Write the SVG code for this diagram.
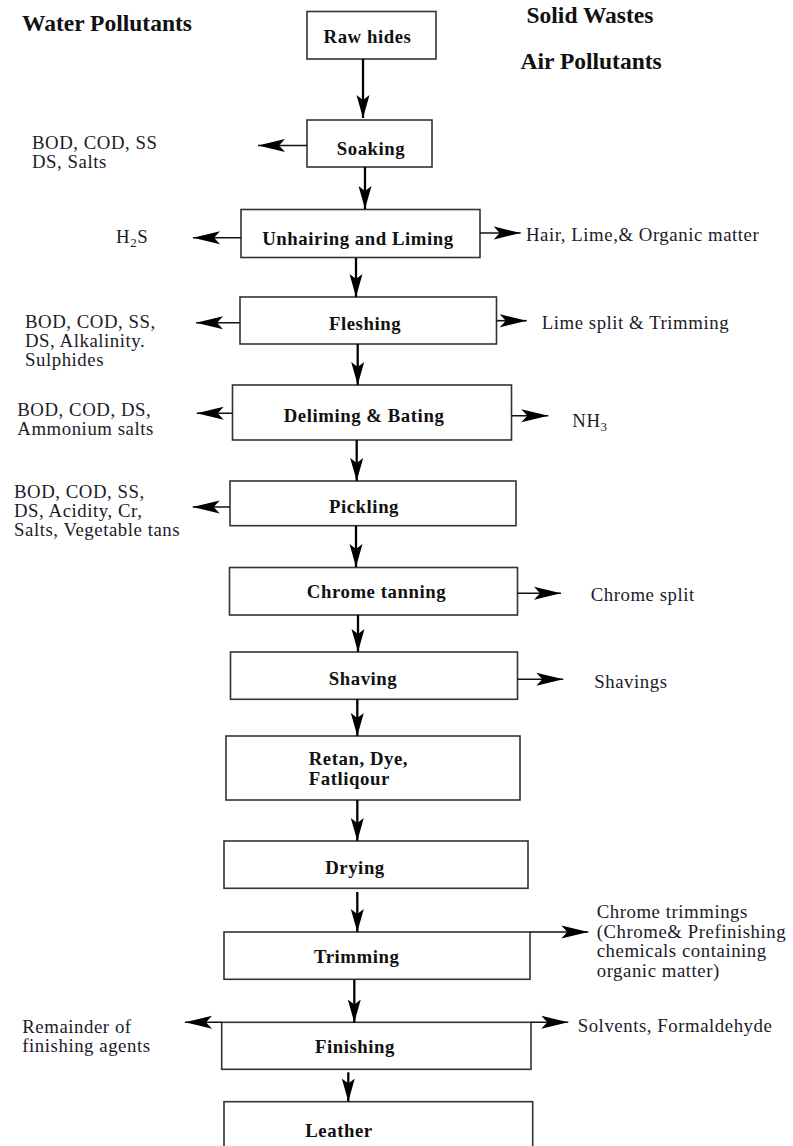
<svg xmlns="http://www.w3.org/2000/svg" width="793" height="1146" viewBox="0 0 793 1146">
<style>
.box{fill:#fff;stroke:#333;stroke-width:1.6}
.nt{font-family:"Liberation Serif",serif;font-weight:bold;font-size:18.8px;letter-spacing:0.55px;fill:#111;text-anchor:middle}
.lb{font-family:"Liberation Serif",serif;font-size:18.8px;letter-spacing:0.55px;fill:#1a1a2a}
.hd{font-family:"Liberation Serif",serif;font-weight:bold;font-size:23.5px;fill:#111}
.cv{fill:none;stroke:#000;stroke-width:2.3;marker-end:url(#av)}
.ch{fill:none;stroke:#111;stroke-width:1.6;marker-end:url(#ah)}
</style>
<defs>
<marker id="ah" markerUnits="userSpaceOnUse" markerWidth="28" markerHeight="14" viewBox="0 0 28 14" refX="27" refY="7" orient="auto"><path d="M27,7 L0,0.5 L6,7 L0,13.5 Z" fill="#000"/></marker>
<marker id="av" markerUnits="userSpaceOnUse" markerWidth="24" markerHeight="14" viewBox="0 0 24 14" refX="23" refY="7" orient="auto"><path d="M23,7 L0,0.5 L5,7 L0,13.5 Z" fill="#000"/></marker>
</defs>

<g id="headings">
<text class="hd" x="22" y="30.5">Water Pollutants</text>
<text class="hd" x="526.5" y="22.5">Solid Wastes</text>
<text class="hd" x="520.5" y="69">Air Pollutants</text>
</g>

<g id="n-raw"><rect class="box" x="307" y="11.5" width="129" height="47.5"/><text class="nt" x="367.5" y="43.3">Raw hides</text></g>
<g id="n-soaking"><rect class="box" x="307" y="120" width="125" height="47"/><text class="nt" x="371" y="155">Soaking</text></g>
<g id="n-unhairing"><rect class="box" x="241" y="209.5" width="239" height="48"/><text class="nt" x="358" y="245">Unhairing and Liming</text></g>
<g id="n-fleshing"><rect class="box" x="240" y="297" width="256.5" height="47"/><text class="nt" x="365" y="330">Fleshing</text></g>
<g id="n-deliming"><rect class="box" x="232.5" y="385" width="279" height="55"/><text class="nt" x="364" y="421.7">Deliming &amp; Bating</text></g>
<g id="n-pickling"><rect class="box" x="230" y="481" width="286" height="44.7"/><text class="nt" x="364" y="512.7">Pickling</text></g>
<g id="n-chrome"><rect class="box" x="229.5" y="567.5" width="288" height="47.5"/><text class="nt" x="376.5" y="598.3">Chrome tanning</text></g>
<g id="n-shaving"><rect class="box" x="230.5" y="652" width="287" height="47.3"/><text class="nt" x="363" y="685">Shaving</text></g>
<g id="n-retan"><rect class="box" x="226" y="736" width="294" height="64"/><text class="nt" x="308.7" y="765" style="text-anchor:start">Retan, Dye,</text><text class="nt" x="308.7" y="785" style="text-anchor:start">Fatliqour</text></g>
<g id="n-drying"><rect class="box" x="224" y="841" width="304" height="47.3"/><text class="nt" x="355" y="874">Drying</text></g>
<g id="n-trimming"><rect class="box" x="224" y="932" width="306" height="47.3"/><text class="nt" x="356.7" y="963.3">Trimming</text></g>
<g id="n-finishing"><rect class="box" x="221.7" y="1022.3" width="309.3" height="47"/><text class="nt" x="355" y="1053.3">Finishing</text></g>
<g id="n-leather"><rect class="box" x="224" y="1101.7" width="308.7" height="60"/><text class="nt" x="339" y="1136.7">Leather</text></g>

<g id="labels">
<text class="lb" x="32" y="149">BOD, COD, SS</text>
<text class="lb" x="32" y="168">DS, Salts</text>
<text class="lb" x="116" y="243">H<tspan font-size="13" dy="4">2</tspan><tspan dy="-4">S</tspan></text>
<text class="lb" x="526" y="240.7">Hair, Lime,&amp; Organic matter</text>
<text class="lb" x="25" y="327.5">BOD, COD, SS,</text>
<text class="lb" x="25" y="346.5">DS, Alkalinity.</text>
<text class="lb" x="25" y="365.5">Sulphides</text>
<text class="lb" x="541.7" y="329">Lime split &amp; Trimming</text>
<text class="lb" x="17.3" y="416">BOD, COD, DS,</text>
<text class="lb" x="17.3" y="435">Ammonium salts</text>
<text class="lb" x="572.3" y="426.7">NH<tspan font-size="13" dy="4">3</tspan></text>
<text class="lb" x="14" y="497.5">BOD, COD, SS,</text>
<text class="lb" x="14" y="516.5">DS, Acidity, Cr,</text>
<text class="lb" x="14" y="535.5">Salts, Vegetable tans</text>
<text class="lb" x="590.7" y="600.7">Chrome split</text>
<text class="lb" x="594.3" y="688.3">Shavings</text>
<text class="lb" x="596.7" y="918.3">Chrome trimmings</text>
<text class="lb" x="596.7" y="938">(Chrome&amp; Prefinishing</text>
<text class="lb" x="596.7" y="957.3">chemicals containing</text>
<text class="lb" x="596.7" y="976.7">organic matter)</text>
<text class="lb" x="22.3" y="1032.7">Remainder of</text>
<text class="lb" x="22.3" y="1051.7">finishing agents</text>
<text class="lb" x="577.7" y="1031.7">Solvents, Formaldehyde</text>
</g>

<g id="connectors">
<line class="cv" x1="363" y1="59" x2="363" y2="118"/>
<line class="cv" x1="365" y1="167" x2="365" y2="209"/>
<line class="cv" x1="356" y1="258" x2="356" y2="297"/>
<line class="cv" x1="357.7" y1="344" x2="357.7" y2="385"/>
<line class="cv" x1="356.7" y1="440" x2="356.7" y2="481"/>
<line class="cv" x1="356" y1="526" x2="356" y2="567"/>
<line class="cv" x1="358" y1="615" x2="358" y2="652"/>
<line class="cv" x1="357.3" y1="699" x2="357.3" y2="736"/>
<line class="cv" x1="357.3" y1="800" x2="357.3" y2="841"/>
<line class="cv" x1="357.3" y1="892" x2="357.3" y2="932"/>
<line class="cv" x1="354.3" y1="980" x2="354.3" y2="1022.5"/>
<line class="cv" x1="348.3" y1="1072.3" x2="348.3" y2="1101.5"/>

<line class="ch" x1="307" y1="145.5" x2="258" y2="145.5"/>
<line class="ch" x1="241" y1="237.7" x2="193" y2="237.7"/>
<line class="ch" x1="480" y1="233" x2="520.7" y2="233"/>
<line class="ch" x1="240" y1="322.7" x2="196" y2="322.7"/>
<line class="ch" x1="496.5" y1="320.7" x2="526.7" y2="320.7"/>
<line class="ch" x1="232.5" y1="413.3" x2="196.7" y2="413.3"/>
<line class="ch" x1="511.5" y1="415.7" x2="548.3" y2="415.7"/>
<line class="ch" x1="230" y1="507" x2="192.7" y2="507"/>
<line class="ch" x1="517.5" y1="593.3" x2="561" y2="593.3"/>
<line class="ch" x1="517.5" y1="679.3" x2="563.3" y2="679.3"/>
<line class="ch" x1="530" y1="932" x2="588.3" y2="932"/>
<line class="ch" x1="221.7" y1="1022.3" x2="185" y2="1022.3"/>
<line class="ch" x1="531" y1="1022.3" x2="568.3" y2="1022.3"/>
</g>
</svg>
